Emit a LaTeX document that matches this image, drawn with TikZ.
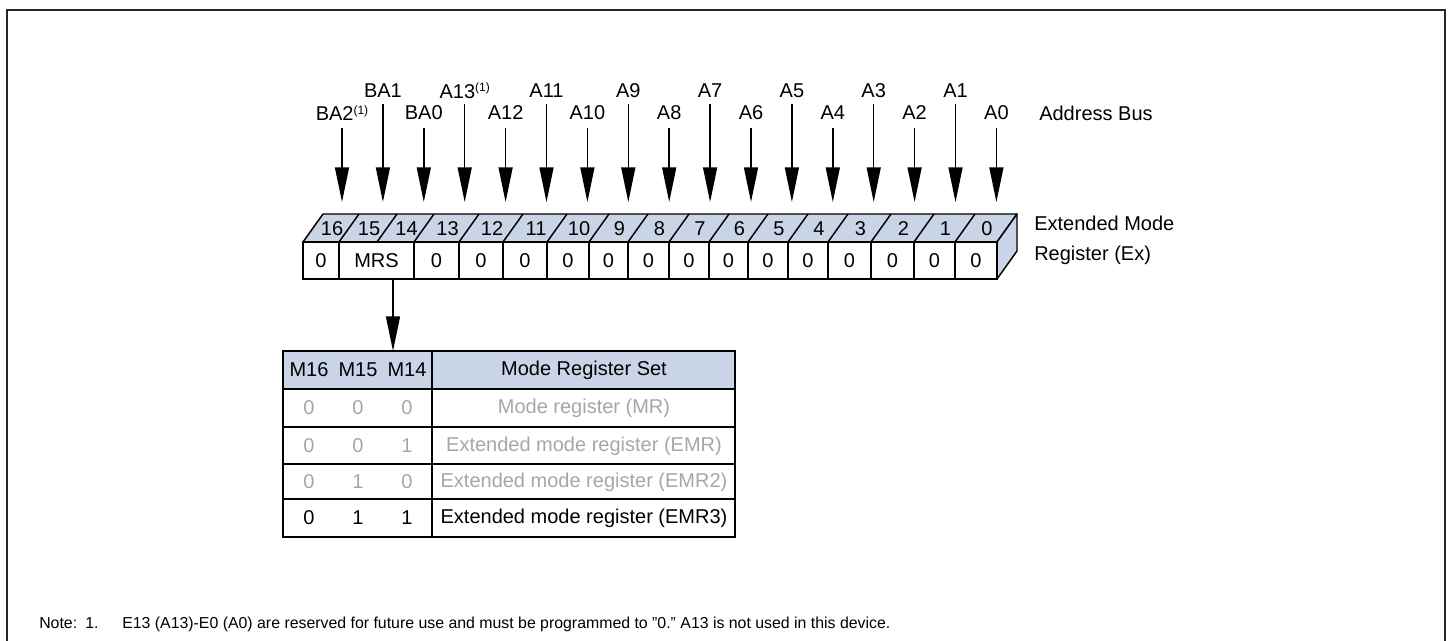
\documentclass[tikz,border=0pt]{standalone}
\usepackage{fontspec}
\setmainfont{Liberation Sans}
\usetikzlibrary{arrows.meta}
\definecolor{regblue}{RGB}{201,212,230}
\definecolor{dimgray}{RGB}{166,166,166}
\newcommand{\supone}{\raisebox{5pt}{\fontsize{9}{10}\selectfont(1)}}
\begin{document}
\begin{tikzpicture}[x=0.75pt,y=-0.75pt,
  lbl/.style={inner sep=0pt,font=\fontsize{15}{18}\selectfont},
  notetxt/.style={inner sep=0pt,anchor=base west,font=\fontsize{11.9}{14}\selectfont},
  busarrow/.style={line width=1.1pt,-{Triangle[length=26pt,width=10.5pt]}},
  box/.style={line width=1.1pt},
  face/.style={line width=1.1pt,fill=regblue,line join=round},
  frame/.style={line width=1.6pt,draw=black!85}]
\useasboundingbox (0,0) rectangle (1450,641);
% outer frame (open below)
\draw[frame] (7,660) -- (7,10) -- (1445,10) -- (1445,660);

% address bus labels and arrows
\foreach \i/\name/\row in {0/BA2\supone/1,1/BA1/0,2/BA0/1,3/A13\supone/0,4/A12/1,5/A11/0,6/A10/1,7/A9/0,8/A8/1,9/A7/0,10/A6/1,11/A5/0,12/A4/1,13/A3/0,14/A2/1,15/A1/0,16/A0/1}{
  \pgfmathsetmacro{\xx}{342+40.9*\i}
  \pgfmathsetmacro{\ly}{\row==1 ? 113 : 91}
  \pgfmathsetmacro{\sy}{\row==1 ? 128 : 104}
  \node[lbl] (lab\i) at (\xx,\ly) {\name};
  \coordinate (s\i) at (\xx,\sy);
  \coordinate (e\i) at (\xx,202);
  \draw[busarrow] (s\i) -- (e\i);
}
\node[lbl,anchor=west] (abus) at (1039,113) {Address Bus};

% register: top face and right face
\draw[face] (303,242) -- (323,214) -- (1017,214) -- (997,242) -- cycle;
\draw[face] (997,242) -- (1017,214) -- (1017,251) -- (997,279) -- cycle;
\draw[box] (303,242) rectangle (997,279);
% front dividers
\foreach \d in {339,414,459,503,547,589,628,669,709,748,788,828,871,914,955}
  \draw[box] (\d,242) -- (\d,279);
% top dividers
\foreach \d in {339,377,414,459,503,547,589,628,669,709,748,788,828,871,914,955}
  \draw[box] (\d,242) -- (\d+20,214);
% bit numbers on top face
\foreach \a/\b/\n in {303/339/16,339/377/15,377/414/14,414/459/13,459/503/12,503/547/11,547/589/10,589/628/9,628/669/8,669/709/7,709/748/6,748/788/5,788/828/4,828/871/3,871/914/2,914/955/1,955/997/0}
  \node[lbl] (bit\n) at ({(\a+\b)/2+11},229) {\n};
% values on front face
\node[lbl] (v16) at (321,261) {0};
\node[lbl] (mrs) at (376.5,261) {MRS};
\foreach \a/\b/\n in {414/459/13,459/503/12,503/547/11,547/589/10,589/628/9,628/669/8,669/709/7,709/748/6,748/788/5,788/828/4,828/871/3,871/914/2,914/955/1,955/997/0}
  \node[lbl] (v\n) at ({(\a+\b)/2},261) {0};
\node[lbl,anchor=west] (emr1) at (1034,223) {Extended Mode};
\node[lbl,anchor=west] (emr2) at (1034,255) {Register (Ex)};

% table
\coordinate (mrsbot) at (393,279);
\coordinate (tabtop) at (393,351);
\draw[busarrow] (mrsbot) -- (tabtop);
\fill[regblue] (283,351) rectangle (735,389);
\draw[box] (283,351) rectangle (735,537);
\foreach \y in {389,427,464,499} \draw[box] (283,\y) -- (735,\y);
\draw[box] (432,351) -- (432,537);
\node[lbl] (h16) at (309,370) {M16};
\node[lbl] (h15) at (358,370) {M15};
\node[lbl] (h14) at (407,370) {M14};
\node[lbl] (hset) at (584,370) {Mode Register Set};
\foreach \r/\yy/\a/\b/\c/\t/\col in {1/408/0/0/0/Mode register (MR)/dimgray,2/446/0/0/1/Extended mode register (EMR)/dimgray,3/482/0/1/0/Extended mode register (EMR2)/dimgray,4/518/0/1/1/Extended mode register (EMR3)/black}{
  \node[lbl,text=\col] (ra\r) at (309,\yy) {\a};
  \node[lbl,text=\col] (rb\r) at (358,\yy) {\b};
  \node[lbl,text=\col] (rc\r) at (407,\yy) {\c};
  \node[lbl,text=\col] (rt\r) at (584,\yy) {\t};
}

% note
\node[notetxt] (note) at (39,628) {Note:};
\node[notetxt] (note1) at (85,628) {1.};
\node[notetxt] (note2) at (122,628) {E13 (A13)-E0 (A0) are reserved for future use and must be programmed to \char34 0.\char34\ A13 is not used in this device.};
\end{tikzpicture}
\end{document}
